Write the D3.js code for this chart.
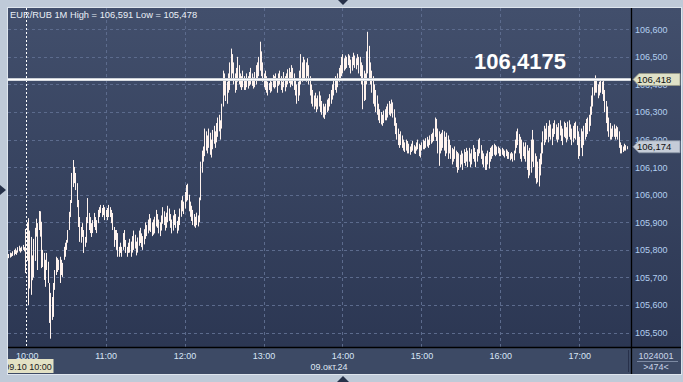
<!DOCTYPE html>
<html><head><meta charset="utf-8">
<script src="https://cdn.jsdelivr.net/npm/d3@7"></script>
<style>
html,body{margin:0;padding:0;background:#bfcad8;overflow:hidden;}
svg{display:block;font-family:"Liberation Sans",Arial,sans-serif;}
</style></head><body>
<svg id="c" width="683" height="382"></svg>
<script>
// ---------------- data ----------------
const title = "EUR/RUB 1M High = 106,591 Low = 105,478";
const startTime = new Date(2024, 9, 9, 9, 46);   // first 1-minute bar
const highs = [
105.785,105.790,105.788,105.795,105.800,105.805,105.798,105.810,105.815,105.808,
105.812,105.818,105.810,105.876,105.900,105.915,105.870,105.847,105.780,105.840,
105.880,105.913,105.897,105.941,105.940,105.902,105.800,105.789,105.764,105.789,
105.757,105.680,105.644,105.629,105.680,105.727,105.775,105.770,105.764,105.775,
105.764,105.753,105.811,105.826,105.836,105.872,105.938,105.981,106.079,106.126,
106.101,106.079,106.042,105.981,105.919,105.883,105.897,105.872,105.847,105.919,
105.988,105.934,105.919,105.897,105.908,105.934,105.919,105.908,105.945,105.955,
105.963,105.952,105.963,105.955,105.945,105.952,105.963,105.955,105.945,105.934,
105.883,105.872,105.872,105.861,105.811,105.826,105.811,105.861,105.872,105.836,
105.811,105.826,105.840,105.830,105.850,105.870,105.855,105.830,105.845,105.870,
105.880,105.860,105.850,105.875,105.900,105.890,105.910,105.930,105.915,105.900,
105.910,105.920,105.945,105.930,105.910,105.900,105.925,105.955,105.940,105.920,
105.935,105.960,105.950,105.930,105.910,105.925,105.945,105.930,105.905,105.920,
105.950,105.980,105.995,105.975,106.010,106.035,106.040,106.000,105.975,105.960,
105.945,105.930,105.920,105.935,105.925,105.990,106.120,106.160,106.175,106.240,
106.230,106.215,106.240,106.225,106.200,106.235,106.250,106.230,106.260,106.280,
106.290,106.270,106.330,106.450,106.440,106.420,106.410,106.440,106.480,106.530,
106.510,106.480,106.440,106.460,106.500,106.470,106.440,106.430,106.450,106.430,
106.420,106.440,106.430,106.445,106.460,106.440,106.425,106.445,106.470,106.480,
106.500,106.555,106.520,106.480,106.440,106.450,106.430,106.410,106.405,106.420,
106.410,106.435,106.430,106.440,106.420,106.440,106.450,106.430,106.410,106.445,
106.430,106.440,106.455,106.460,106.445,106.470,106.460,106.440,106.420,106.400,
106.410,106.450,106.510,106.480,106.500,106.490,106.480,106.495,106.470,106.430,
106.400,106.380,106.360,106.370,106.350,106.360,106.375,106.360,106.340,106.330,
106.320,106.330,106.345,106.350,106.365,106.380,106.400,106.420,106.430,106.420,
106.440,106.460,106.470,106.500,106.510,106.495,106.505,106.500,106.510,106.505,
106.490,106.500,106.515,106.505,106.495,106.510,106.500,106.500,106.480,106.470,
106.450,106.440,106.520,106.591,106.540,106.480,106.450,106.430,106.400,106.380,
106.360,106.330,106.310,106.300,106.290,106.305,106.310,106.320,106.330,106.340,
106.330,106.345,106.335,106.310,106.280,106.260,106.240,106.220,106.230,106.215,
106.200,106.190,106.200,106.195,106.185,106.175,106.185,106.195,106.180,106.175,
106.190,106.200,106.185,106.180,106.190,106.200,106.195,106.205,106.210,106.200,
106.215,106.220,106.225,106.240,106.280,106.275,106.240,106.230,106.220,106.225,
106.235,106.230,106.210,106.225,106.215,106.200,106.180,106.170,106.165,106.175,
106.160,106.155,106.150,106.145,106.160,106.150,106.165,106.155,106.170,106.160,
106.170,106.150,106.165,106.180,106.170,106.155,106.165,106.200,106.205,106.180,
106.160,106.150,106.140,106.150,106.160,106.155,106.170,106.175,106.180,106.185,
106.180,106.175,106.175,106.170,106.165,106.170,106.165,106.160,106.165,106.160,
106.155,106.150,106.155,106.150,106.160,106.200,106.230,106.240,106.220,106.210,
106.200,106.190,106.175,106.190,106.180,106.160,106.170,106.200,106.235,106.200,
106.150,106.140,106.120,106.130,106.150,106.190,106.230,106.250,106.240,106.260,
106.250,106.270,106.255,106.240,106.260,106.270,106.255,106.245,106.260,106.270,
106.250,106.240,106.265,106.260,106.245,106.265,106.270,106.255,106.240,106.250,
106.260,106.265,106.250,106.230,106.210,106.240,106.230,106.250,106.260,106.275,
106.280,106.290,106.320,106.360,106.390,106.420,106.433,106.420,106.400,106.410,
106.420,106.410,106.420,106.380,106.340,106.320,106.280,106.260,106.240,106.250,
106.255,106.240,106.250,106.245,106.230,106.190,106.180,106.175,106.185,106.180,
106.176
];
const lows = [
105.770,105.772,105.775,105.778,105.780,105.785,105.782,105.790,105.795,105.790,
105.795,105.800,105.795,105.716,105.760,105.600,105.660,105.637,105.690,105.700,
105.760,105.848,105.727,105.872,105.848,105.734,105.738,105.691,105.666,105.727,
105.680,105.535,105.478,105.546,105.557,105.655,105.709,105.720,105.727,105.680,
105.709,105.702,105.764,105.775,105.800,105.826,105.872,105.919,105.970,106.028,
106.042,106.017,105.955,105.883,105.829,105.826,105.847,105.789,105.811,105.826,
105.897,105.872,105.861,105.847,105.861,105.883,105.872,105.861,105.897,105.919,
105.934,105.919,105.926,105.908,105.919,105.908,105.919,105.919,105.897,105.872,
105.811,105.836,105.800,105.775,105.775,105.789,105.775,105.800,105.811,105.789,
105.775,105.789,105.790,105.775,105.790,105.800,105.805,105.780,105.790,105.815,
105.825,105.810,105.800,105.820,105.840,105.850,105.860,105.870,105.865,105.850,
105.855,105.860,105.885,105.880,105.860,105.850,105.870,105.895,105.890,105.870,
105.880,105.900,105.905,105.880,105.860,105.870,105.890,105.880,105.860,105.870,
105.890,105.920,105.940,105.930,105.950,105.975,105.980,105.940,105.920,105.905,
105.890,105.885,105.880,105.890,105.885,105.900,105.980,106.080,106.120,106.140,
106.160,106.150,106.170,106.145,106.135,106.165,106.185,106.170,106.190,106.210,
106.230,106.200,106.240,106.320,106.360,106.340,106.330,106.370,106.380,106.420,
106.440,106.400,106.370,106.380,106.410,106.400,106.390,106.380,106.390,106.380,
106.380,106.390,106.385,106.395,106.400,106.395,106.385,106.390,106.400,106.420,
106.430,106.450,106.430,106.410,106.390,106.380,106.370,106.360,106.380,106.370,
106.375,106.390,106.385,106.390,106.370,106.395,106.400,106.380,106.370,106.390,
106.375,106.390,106.400,106.405,106.390,106.400,106.395,106.380,106.360,106.330,
106.340,106.360,106.400,106.410,106.420,106.420,106.410,106.430,106.400,106.360,
106.330,106.320,106.310,106.320,106.300,106.310,106.320,106.300,106.290,106.280,
106.275,106.290,106.300,106.305,106.320,106.330,106.345,106.360,106.380,106.370,
106.390,106.410,106.420,106.430,106.440,106.450,106.455,106.460,106.470,106.460,
106.440,106.450,106.470,106.460,106.455,106.470,106.440,106.430,106.400,106.310,
106.340,106.344,106.400,106.440,106.420,106.400,106.370,106.330,106.320,106.300,
106.290,106.270,106.260,106.255,106.250,106.260,106.270,106.270,106.280,106.290,
106.285,106.295,106.280,106.250,106.220,106.200,106.180,106.170,106.180,106.170,
106.160,106.155,106.160,106.150,106.150,106.145,106.155,106.160,106.150,106.148,
106.160,106.165,106.140,106.135,106.160,106.165,106.165,106.170,106.175,106.170,
106.180,106.185,106.190,106.195,106.210,106.195,106.150,106.105,106.150,106.160,
106.170,106.160,106.140,106.150,106.130,106.150,106.130,106.110,106.120,106.130,
106.100,106.080,106.090,106.100,106.110,106.090,106.115,106.105,106.120,106.100,
106.120,106.100,106.110,106.130,106.120,106.100,106.120,106.140,106.150,106.130,
106.110,106.100,106.090,106.090,106.110,106.095,106.120,106.130,106.140,106.145,
106.140,106.145,106.150,106.140,106.140,106.145,106.140,106.135,106.140,106.130,
106.130,106.125,106.130,106.120,106.125,106.150,106.170,106.180,106.150,106.130,
106.120,106.140,106.130,106.120,106.090,106.060,106.070,106.080,106.120,106.100,
106.060,106.040,106.045,106.030,106.070,106.110,106.150,106.180,106.190,106.200,
106.190,106.210,106.200,106.180,106.210,106.220,106.200,106.190,106.200,106.215,
106.195,106.180,106.210,106.205,106.190,106.200,106.210,106.200,106.180,106.190,
106.205,106.200,106.180,106.130,106.140,106.170,106.140,106.180,106.200,106.210,
106.220,106.230,106.250,106.290,106.320,106.360,106.370,106.370,106.350,106.360,
106.370,106.365,106.340,106.300,106.260,106.230,106.210,106.200,106.200,106.210,
106.210,106.200,106.210,106.200,106.170,106.150,106.150,106.155,106.160,106.160,
106.165
];
const yTicks = [105.5,105.6,105.7,105.8,105.9,106.0,106.1,106.2,106.3,106.4,106.5,106.6];
const hourTicks = ["10:00","11:00","12:00","13:00","14:00","15:00","16:00","17:00"];
const levelValue = 106.4175;
const levelLabel = "106,4175";
const levelMarker = 106.418;
const lastMarker = 106.174;
const cursorTime = "10:00";
const cursorLabel = "09.10 10:00";
const dateLabel = "09.окт.24";
const infoTop = "1024001";
const infoBottom = ">474<";

// ---------------- layout ----------------
const L = 8, T = 8, PR = 632, PB = 347, R = 681, B = 374;
const svg = d3.select("#c");
const defs = svg.append("defs");
const g1 = defs.append("linearGradient").attr("id","bg").attr("x1",0).attr("y1",0).attr("x2",0).attr("y2",1);
g1.append("stop").attr("offset","0%").attr("stop-color","#424f6c");
g1.append("stop").attr("offset","100%").attr("stop-color","#2a3551");
defs.append("clipPath").attr("id","plot").append("rect").attr("x",L).attr("y",T).attr("width",PR-L).attr("height",PB-T);
defs.append("clipPath").attr("id","panel").append("rect").attr("x",L).attr("y",T).attr("width",R-L).attr("height",B-T);

const parseHM = s => { const [h,m] = s.split(":").map(Number); return new Date(2024,9,9,h,m); };
const x = d3.scaleTime().domain([parseHM("10:00"), parseHM("17:00")]).range([26.7, 579.3]);
const y = d3.scaleLinear().domain([105.5, 106.6]).range([332.6, 29.3]);
const loc = d3.formatLocale({decimal:",", thousands:"\u00a0", grouping:[3], currency:["",""]});
const f3 = loc.format(".3f");

// frame
svg.append("rect").attr("x",L-0.5).attr("y",T-0.5).attr("width",R-L+1).attr("height",B-T+1)
  .attr("fill","url(#bg)").attr("stroke","#dfe6ee").attr("stroke-width",1);
svg.append("rect").attr("x",L).attr("y",PB).attr("width",R-L).attr("height",B-PB).attr("fill","#3d4a65");

// grid
const grid = svg.append("g").attr("clip-path","url(#plot)");
grid.selectAll("line.h").data(yTicks).join("line")
  .attr("x1",L).attr("x2",PR).attr("y1",d=>Math.round(y(d))+0.5).attr("y2",d=>Math.round(y(d))+0.5)
  .attr("stroke","#5c6b8d").attr("stroke-dasharray","3,3");
grid.selectAll("line.v").data(hourTicks.slice(1)).join("line")
  .attr("y1",T).attr("y2",PB).attr("x1",d=>Math.round(x(parseHM(d)))+0.5).attr("x2",d=>Math.round(x(parseHM(d)))+0.5)
  .attr("stroke","#5c6b8d").attr("stroke-dasharray","3,3");

// cursor
const cx = Math.round(x(parseHM(cursorTime))) - 0.5;
grid.append("line").attr("x1",cx).attr("x2",cx).attr("y1",T).attr("y2",PB)
  .attr("stroke","#ffffff").attr("stroke-dasharray","2,2");

// bars
const bars = highs.map((h,i)=>({t:new Date(startTime.getTime()+i*60000), h, l:lows[i]}));
const barG = svg.append("g").attr("clip-path","url(#plot)");
barG.selectAll("rect").data(bars).join("rect")
  .attr("x",d=>Math.round(x(d.t)))
  .attr("y",d=>y(d.h))
  .attr("width",1)
  .attr("height",d=>Math.max(1, y(d.l)-y(d.h)))
  .attr("fill","#fff3ee");

// level line
const ly = y(levelValue);
svg.append("line").attr("x1",L).attr("x2",PR).attr("y1",ly).attr("y2",ly).attr("stroke","#c9ced6").attr("stroke-width",3);
svg.append("line").attr("x1",L).attr("x2",PR).attr("y1",ly).attr("y2",ly).attr("stroke","#ffffff").attr("stroke-width",1.2);
svg.append("text").attr("x",520).attr("y",ly-11).attr("text-anchor","middle")
  .attr("font-size",22).attr("font-weight","bold").attr("fill","#ffffff").text(levelLabel);

// separators
svg.append("line").attr("x1",PR-0.5).attr("x2",PR-0.5).attr("y1",T).attr("y2",B).attr("stroke","#000").attr("stroke-width",1.3);
svg.append("line").attr("x1",L).attr("x2",R).attr("y1",PB+0.5).attr("y2",PB+0.5).attr("stroke","#000").attr("stroke-width",1.3);
svg.append("line").attr("x1",628.5).attr("x2",628.5).attr("y1",PB+3).attr("y2",B-2).attr("stroke","#27304a");

// title
svg.append("text").attr("x",10).attr("y",18).attr("font-size",9.3).attr("fill","#eaf0f7").text(title);

// y axis
const yAx = svg.append("g").attr("transform",`translate(${PR},0)`)
  .call(d3.axisRight(y).tickValues(yTicks).tickSize(0).tickPadding(3).tickFormat(f3));
yAx.select(".domain").remove();
yAx.selectAll("text").attr("font-size",9).attr("fill","#b3cff0").attr("font-family","Liberation Sans, Arial, sans-serif");

// markers
function marker(v, fill, stroke){
  const my = y(v);
  svg.append("path").attr("d",`M${PR+1},${my} L${PR+7},${my-6} L${R-1},${my-6} L${R-1},${my+6} L${PR+7},${my+6} Z`)
    .attr("fill",fill).attr("stroke",stroke).attr("stroke-width",0.8);
  svg.append("text").attr("x",PR+5).attr("y",my+3.3).attr("font-size",9.5).attr("fill","#111").text(f3(v));
}
marker(levelMarker, "#dfe1c7", "#9a9c88");
marker(lastMarker, "#c5ccd8", "#8c95a6");

// x axis
const xAx = svg.append("g").attr("transform",`translate(0,${PB})`)
  .call(d3.axisBottom(x).tickValues(hourTicks.map(parseHM)).tickSize(0).tickFormat(d3.timeFormat("%H:%M")));
xAx.select(".domain").remove();
xAx.selectAll("text").attr("y",11.5).attr("dy",0).attr("font-size",9).attr("fill","#d8e5f6").attr("font-family","Liberation Sans, Arial, sans-serif");

// cursor label
const cg = svg.append("g").attr("clip-path","url(#panel)");
cg.append("rect").attr("x",cx-25).attr("y",359).attr("width",52).attr("height",14).attr("fill","#e3e1c4");
cg.append("text").attr("x",cx+1.5).attr("y",369.5).attr("text-anchor","middle").attr("font-size",9).attr("fill","#1a1a1a").text(cursorLabel);

// date label
svg.append("text").attr("x",329).attr("y",370).attr("text-anchor","middle").attr("font-size",9).attr("fill","#dfe7f3").text(dateLabel);

// info
svg.append("text").attr("x",656).attr("y",358.5).attr("text-anchor","middle").attr("font-size",9).attr("fill","#c9d5e8").text(infoTop);
svg.append("line").attr("x1",637).attr("x2",678).attr("y1",361.5).attr("y2",361.5).attr("stroke","#7d8aa3");
svg.append("text").attr("x",656).attr("y",370).attr("text-anchor","middle").attr("font-size",9).attr("fill","#c9d5e8").text(infoBottom);

// arrows
svg.append("path").attr("d","M338,0 L348,0 L343,5 Z").attr("fill","#27324a");
svg.append("path").attr("d","M337,382 L349,382 L343,376 Z").attr("fill","#27324a");
svg.append("path").attr("d","M0,185 L0,195 L6,190 Z").attr("fill","#27324a");
</script>
</body></html>
